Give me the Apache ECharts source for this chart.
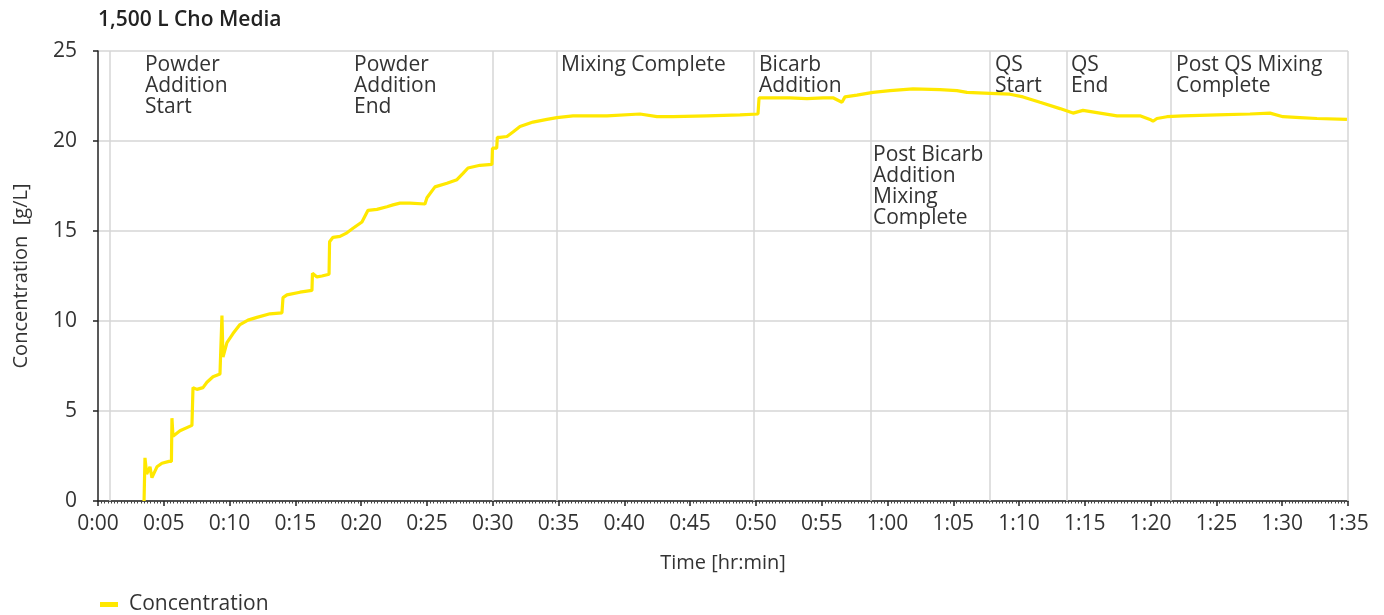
<!DOCTYPE html>
<html>
<head>
<meta charset="utf-8">
<script src="https://cdn.jsdelivr.net/npm/echarts@6/dist/echarts.min.js"></script>
<style>
html,body{margin:0;padding:0;background:#fff;}
#chart{width:1384px;height:615px;}
</style>
</head>
<body>
<div id="chart"></div>
<script>
// Time in minutes since start
var timeMin = [3.5,3.57,3.7,3.95,4.1,4.48,4.86,5.4,5.58,5.62,5.7,6.23,7.14,7.22,7.52,7.98,8.28,8.74,9.27,9.42,9.5,9.8,10.26,10.79,11.4,12.08,13.07,13.98,14.06,14.36,15.35,16.26,16.3,16.64,17.02,17.56,17.6,17.86,18.39,18.92,19.38,20.06,20.52,21.2,21.96,22.42,22.95,23.71,24.85,25.0,25.61,26.52,27.28,27.74,28.12,29.03,29.94,29.98,30.3,30.35,30.55,31.08,31.54,32.07,33.06,34.12,34.88,36.1,38.68,41.19,42.48,43.7,46.28,48.79,50.16,50.24,51.3,52.6,53.88,55.1,55.86,56.54,56.77,57.68,58.9,60.19,61.94,63.99,65.28,66.04,67.79,69.31,70.3,71.59,73.11,74.1,74.86,76.15,77.44,79.19,79.95,80.18,80.48,81.24,82.46,85.04,87.55,89.07,90.06,91.35,92.64,94.92];
var concentration = [0,2.4,1.5,1.9,1.3,1.9,2.1,2.2,2.2,4.6,3.6,3.9,4.2,6.3,6.2,6.3,6.6,6.9,7.05,10.3,8.0,8.8,9.3,9.8,10.05,10.2,10.4,10.45,11.3,11.45,11.6,11.7,12.65,12.45,12.5,12.6,14.4,14.65,14.7,14.9,15.15,15.5,16.15,16.2,16.35,16.45,16.55,16.55,16.5,16.85,17.45,17.65,17.85,18.2,18.5,18.65,18.7,19.6,19.6,20.2,20.2,20.25,20.5,20.8,21.05,21.2,21.3,21.4,21.4,21.5,21.35,21.35,21.4,21.45,21.5,22.4,22.4,22.4,22.35,22.4,22.4,22.15,22.45,22.55,22.7,22.8,22.9,22.85,22.8,22.7,22.65,22.6,22.45,22.15,21.8,21.55,21.7,21.55,21.4,21.4,21.2,21.1,21.25,21.35,21.4,21.45,21.5,21.55,21.35,21.3,21.25,21.2];

// Vertical event lines (minutes)
var eventLines = [0.91, 30.0, 34.9, 49.8, 58.7, 67.8, 73.6, 81.5, 95];

// Event annotation texts
var eventLabels = ['Powder\nAddition\nStart','Powder\nAddition\nEnd','Mixing Complete','Bicarb\nAddition','Post Bicarb\nAddition\nMixing\nComplete','QS\nStart','QS\nEnd','Post QS Mixing\nComplete'];
var eventLabelTimes = [3.57, 19.46, 35.19, 50.24, 58.9, 68.17, 73.95, 81.93];
var eventLabelTops = [24.78, 24.78, 24.78, 24.78, 19.78, 24.78, 24.78, 24.78];

var yTicks = [0,5,10,15,20,25];

var seriesData = timeMin.map(function(t,i){return [t, concentration[i]];});
var FONT = '"Open Sans", sans-serif';
var TXT = '#333333';

function fmtTime(v){
  var h = Math.floor(v/60), m = Math.round(v - h*60);
  return h + ':' + (m<10?'0':'') + m;
}

var chart = echarts.init(document.getElementById('chart'), null, {renderer:'canvas'});
chart.setOption({
  animation: false,
  backgroundColor: '#ffffff',
  textStyle: {fontFamily: FONT, color: TXT},
  title: {
    text: '1,500 L Cho Media',
    left: 93, top: 5,
    textStyle: {fontFamily: FONT, fontSize: 21, fontWeight: 600, color: '#222222'}
  },
  legend: {
    left: 95, top: 589,
    icon: 'rect', itemWidth: 18, itemHeight: 5,
    textStyle: {fontFamily: FONT, fontSize: 21, color: TXT, padding:[0,0,0,6]},
    data: ['Concentration']
  },
  grid: {left: 98, right: 36, top: 51, bottom: 114, containLabel: false},
  xAxis: {
    type: 'value', min: 0, max: 95, interval: 5,
    name: 'Time [hr:min]', nameLocation: 'middle', nameGap: 52,
    nameTextStyle: {fontFamily: FONT, fontSize: 20, color: TXT},
    axisLine: {show: true, lineStyle: {color: '#222222', width: 1.5}},
    axisTick: {show: true, length: 5, lineStyle: {color: '#222222', width: 1.5}},
    minorTick: {show: true, splitNumber: 20, length: 2.5, lineStyle: {color: '#444444', width: 1}},
    axisLabel: {formatter: fmtTime, fontFamily: FONT, fontSize: 21, color: TXT, margin: 13},
    splitLine: {show: false}
  },
  yAxis: {
    type: 'value', min: yTicks[0], max: yTicks[yTicks.length-1], interval: 5,
    name: 'Concentration  [g/L]', nameLocation: 'middle', nameGap: 67, nameRotate: 90,
    nameTextStyle: {fontFamily: FONT, fontSize: 20, color: TXT},
    axisLine: {show: true, lineStyle: {color: '#222222', width: 1.5}},
    axisTick: {show: true, length: 5, lineStyle: {color: '#222222', width: 1.5}},
    axisLabel: {fontFamily: FONT, fontSize: 21, color: TXT, margin: 21},
    splitLine: {show: true, lineStyle: {color: '#d6d6d6', width: 1.5}}
  },
  series: [
    {
      name: 'events', type: 'line', data: [], z: 1, silent: true,
      markLine: {
        silent: true, symbol: ['none','none'], z: 1,
        label: {show: false},
        lineStyle: {color: '#d6d6d6', width: 1.5, type: 'solid'},
        data: eventLines.map(function(t){return {xAxis: t};})
      },
      markPoint: {
        silent: true, symbol: 'circle', symbolSize: 0, z: 4,
        label: {
          show: true, position: [0,0], align: 'left', verticalAlign: 'top',
          fontFamily: FONT, fontSize: 21, lineHeight: 21, color: TXT
        },
        data: eventLabels.map(function(s,i){
          return {coord: [eventLabelTimes[i], eventLabelTops[i]], value: s, label: {formatter: s}};
        })
      }
    },
    {
      name: 'Concentration', type: 'line', z: 3,
      data: seriesData, showSymbol: false, symbol: 'none',
      itemStyle: {color: '#ffe800'},
      lineStyle: {color: '#ffe800', width: 3.2}
    }
  ]
});
</script>
</body>
</html>
